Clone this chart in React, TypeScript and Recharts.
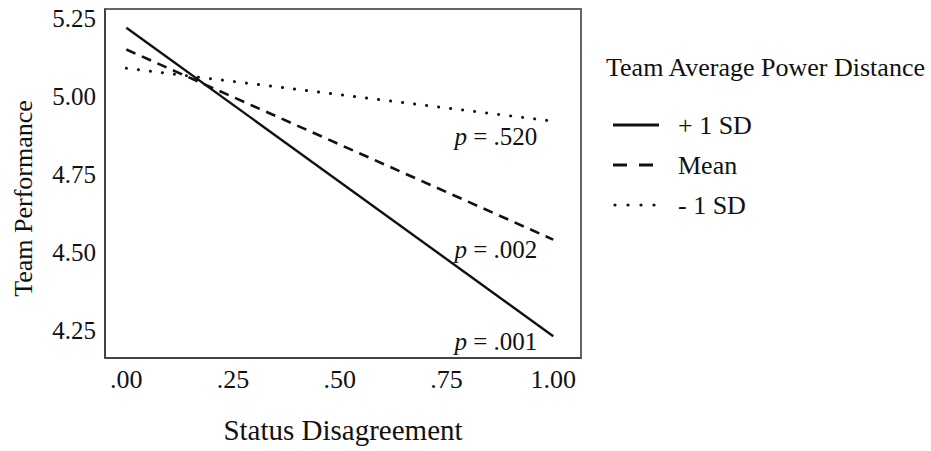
import React from "react";
import { LineChart, Line, XAxis, YAxis, ReferenceArea } from "recharts";

// Status disagreement (x) endpoints of each simple slope
const disagreement = [0, 1];

// Predicted team performance at low/high disagreement
const plusOneSD = [5.22, 4.23];
const meanPD = [5.15, 4.54];
const minusOneSD = [5.09, 4.92];

const seriesNames = ["+ 1 SD", "Mean", "- 1 SD"];
const pValues = [".001", ".002", ".520"];

const xTicks = [0, 0.25, 0.5, 0.75, 1];
const xTickLabels = [".00", ".25", ".50", ".75", "1.00"];
const yTicks = [4.25, 4.5, 4.75, 5.0, 5.25];
const yTickLabels = ["4.25", "4.50", "4.75", "5.00", "5.25"];

const xDomain = [-0.05, 1.065];
const yDomain = [4.16, 5.28];

const chartData = disagreement.map((x, i) => ({
  x,
  high: plusOneSD[i],
  mean: meanPD[i],
  low: minusOneSD[i],
}));

const FONT = "'Liberation Serif', 'Times New Roman', serif";
const INK = "#111";

// p-value annotation drawn under the right end of a line
const pLabel = (p: string, dy: number) => (props: any) => {
  const { x, y, index } = props;
  if (index !== disagreement.length - 1) return null;
  return (
    <text
      x={x - 16}
      y={y + dy}
      textAnchor="end"
      fontFamily={FONT}
      fontSize={25}
      fill={INK}
    >
      <tspan fontStyle="italic">p</tspan> = {p}
    </text>
  );
};

const YTitle = ({ viewBox }: any) => {
  const cx = 23;
  const cy = viewBox.y + viewBox.height / 2 + 15;
  return (
    <text
      x={cx}
      y={cy}
      transform={`rotate(-90, ${cx}, ${cy})`}
      textAnchor="middle"
      dominantBaseline="central"
      fontFamily={FONT}
      fontSize={26}
      fill={INK}
    >
      Team Performance
    </text>
  );
};

const legendSample = (kind: string) => {
  if (kind === "dot") {
    return [0, 1, 2, 3].map((k) => (
      <circle key={k} cx={2 + k * 13} cy={0} r={1.6} fill={INK} />
    ));
  }
  if (kind === "dash") {
    return (
      <>
        <line x1={0} x2={14} y1={0} y2={0} stroke={INK} strokeWidth={3} />
        <line x1={26} x2={40} y1={0} y2={0} stroke={INK} strokeWidth={3} />
      </>
    );
  }
  return <line x1={0} x2={46} y1={0} y2={0} stroke={INK} strokeWidth={3} />;
};

const PowerDistanceLegend = () => {
  const kinds = ["solid", "dash", "dot"];
  return (
    <svg
      width={330}
      height={180}
      style={{ position: "absolute", left: 606, top: 50, overflow: "visible" }}
    >
      <text x={0} y={26} fontFamily={FONT} fontSize={26} fill={INK}>
        Team Average Power Distance
      </text>
      {seriesNames.map((name, i) => (
        <g key={name} transform={`translate(7, ${75 + i * 40})`}>
          {legendSample(kinds[i])}
          <text x={65} y={9} fontFamily={FONT} fontSize={26} fill={INK}>
            {name}
          </text>
        </g>
      ))}
    </svg>
  );
};

export default function App() {
  return (
    <div
      style={{ position: "relative", width: 931, height: 451, background: "#fff" }}
    >
      <style>{`body{margin:0}`}</style>
      <LineChart
        width={931}
        height={451}
        data={chartData}
        margin={{ top: 9, right: 350, bottom: 33, left: 0 }}
      >
        {/* plot frame */}
        <ReferenceArea
          x1={xDomain[0]}
          x2={xDomain[1]}
          y1={yDomain[0]}
          y2={yDomain[1]}
          fill="none"
          fillOpacity={0}
          stroke="#666"
          strokeWidth={2}
          ifOverflow="visible"
        />
        <XAxis
          dataKey="x"
          type="number"
          domain={xDomain}
          ticks={xTicks}
          tickFormatter={(v) => xTickLabels[xTicks.indexOf(v)]}
          tickLine={false}
          axisLine={{ stroke: "#444", strokeWidth: 2 }}
          tick={{ fontFamily: FONT, fontSize: 26, fill: INK }}
          tickMargin={6}
          height={60}
          label={{
            value: "Status Disagreement",
            position: "insideBottom",
            offset: -22,
            fontFamily: FONT,
            fontSize: 29,
            fill: INK,
          }}
        />
        <YAxis
          type="number"
          domain={yDomain}
          ticks={yTicks}
          tickFormatter={(v) => yTickLabels[yTicks.indexOf(v)]}
          tickLine={false}
          axisLine={{ stroke: "#444", strokeWidth: 2 }}
          tick={{ fontFamily: FONT, fontSize: 25, fill: INK }}
          tickMargin={3}
          width={105}
          label={<YTitle />}
        />
        <Line
          dataKey="high"
          name={seriesNames[0]}
          stroke={INK}
          strokeWidth={2.4}
          dot={false}
          isAnimationActive={false}
          label={pLabel(pValues[0], 14)}
        />
        <Line
          dataKey="mean"
          name={seriesNames[1]}
          stroke={INK}
          strokeWidth={2.6}
          strokeDasharray="10 7"
          dot={false}
          isAnimationActive={false}
          label={pLabel(pValues[1], 18)}
        />
        <Line
          dataKey="low"
          name={seriesNames[2]}
          stroke={INK}
          strokeWidth={3}
          strokeDasharray="0.1 12"
          strokeLinecap="round"
          dot={false}
          isAnimationActive={false}
          label={pLabel(pValues[2], 24)}
        />
      </LineChart>
      <PowerDistanceLegend />
    </div>
  );
}
